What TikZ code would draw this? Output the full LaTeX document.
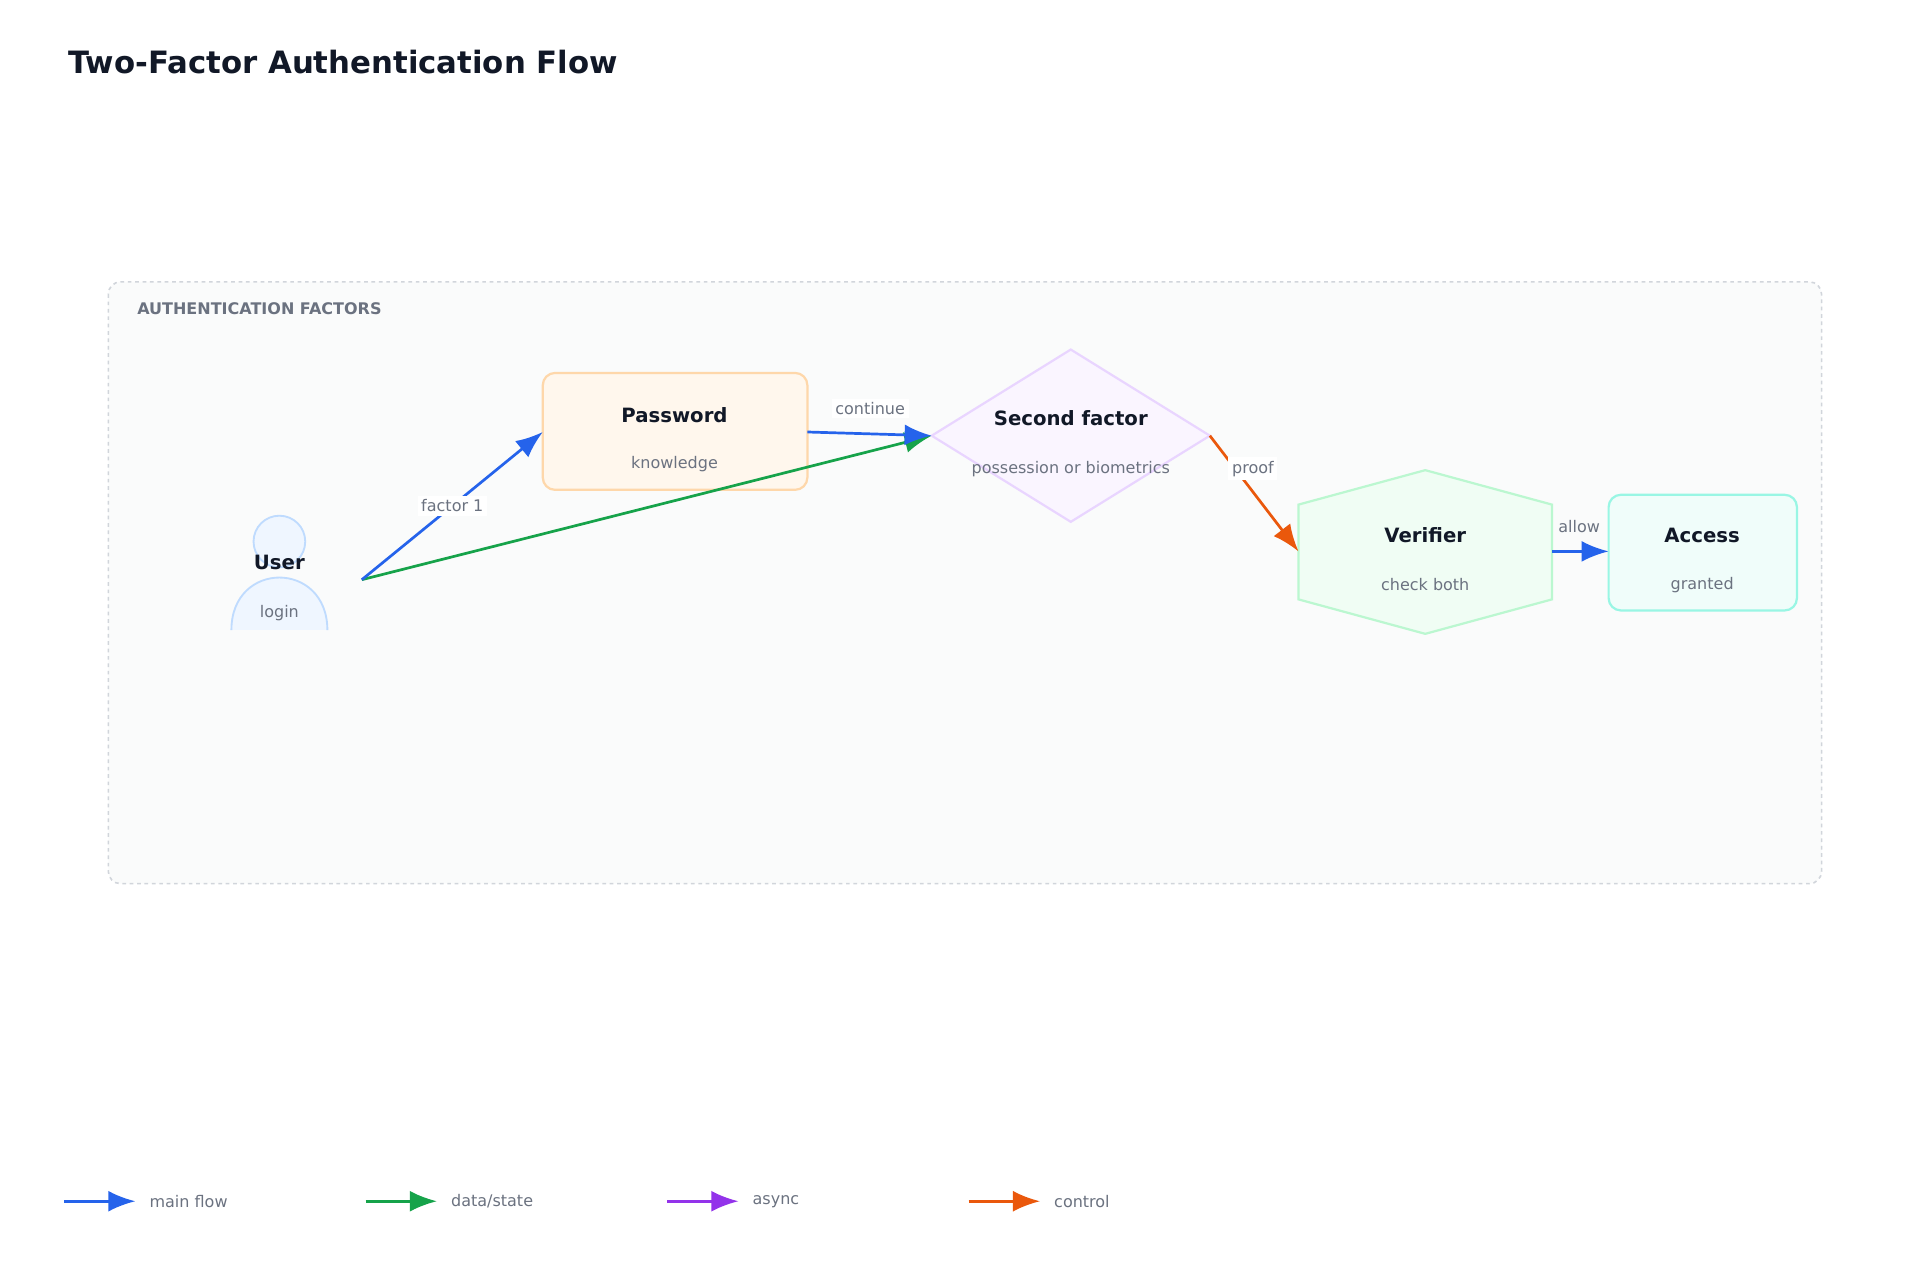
\documentclass[tikz,border=0pt]{standalone}
\usepackage{fontspec}
\setmainfont{DejaVu Sans}
\usetikzlibrary{arrows.meta, positioning, shapes.geometric, calc}
\definecolor{CInk}{HTML}{111827}
\definecolor{CMuted}{HTML}{6B7280}
\definecolor{CFrame}{HTML}{D1D5DB}
\definecolor{CBlue}{HTML}{2563EB}
\definecolor{CGreen}{HTML}{16A34A}
\definecolor{CPurple}{HTML}{9333EA}
\definecolor{COrange}{HTML}{EA580C}
\definecolor{CUserLine}{HTML}{BFDBFE}
\definecolor{CUserFill}{HTML}{EFF6FF}
\definecolor{CPwdLine}{HTML}{FED7AA}
\definecolor{CPwdFill}{HTML}{FFF7ED}
\definecolor{CSecLine}{HTML}{E9D5FF}
\definecolor{CSecFill}{HTML}{FAF5FF}
\definecolor{CVerLine}{HTML}{BBF7D0}
\definecolor{CVerFill}{HTML}{F0FDF4}
\definecolor{CAccLine}{HTML}{99F6E4}
\definecolor{CAccFill}{HTML}{F0FDFA}
\definecolor{CGroup}{HTML}{FAFBFB}

\tikzset{
    title/.style={font=\bfseries\fontsize{16}{19}\selectfont, text=CInk},
    sub/.style={font=\fontsize{13}{16}\selectfont, text=CMuted},
    flow/.style={-{Latex[length=22pt, width=17pt]}, line width=2.2pt},
    elabel/.style={fill=white, inner sep=3pt, font=\fontsize{13}{16}\selectfont, text=CMuted},
}

\begin{document}
\begin{tikzpicture}[x=1pt, y=-1pt]
    \useasboundingbox (0,0) rectangle (1560,1040);
    \fill[white] (0,0) rectangle (1560,1040);

    % Title
    \node[anchor=west, font=\bfseries\fontsize{25}{30}\selectfont, text=CInk] (heading) at (52,50) {Two-Factor Authentication Flow};

    % Group frame
    \draw[CFrame, dashed, line width=1.3pt, rounded corners=10pt, fill=CGroup] (88,229) rectangle (1480,718);
    \node[anchor=west, font=\bfseries\fontsize{13}{16}\selectfont, text=CMuted] (grp) at (108,251) {AUTHENTICATION FACTORS};

    % User
    \draw[CUserLine, fill=CUserFill, line width=1.5pt] (227,440) circle (21);
    \draw[CUserLine, fill=CUserFill, line width=1.5pt]
        (188,512) .. controls (188,455) and (266,455) .. (266,512);
    \node[title] (user) at (227,457) {User};
    \node[sub] (userSub) at (227,498) {login};
    \coordinate (userOut) at (294,471);

    % Password
    \draw[CPwdLine, fill=CPwdFill, line width=1.8pt, rounded corners=10pt] (441,303) rectangle (656,398);
    \node[title] (pwd) at (548,337) {Password};
    \node[sub] at (548,377) {knowledge};
    \coordinate (pwdIn) at (441,351);
    \coordinate (pwdOut) at (656,351);

    % Second factor
    \draw[CSecLine, fill=CSecFill, line width=1.8pt]
        (757,354) -- (870,284) -- (983,354) -- (870,424) -- cycle;
    \node[title] (second) at (870,340) {Second factor};
    \node[sub] at (870,381) {possession or biometrics};
    \coordinate (secIn) at (757,354);
    \coordinate (secOut) at (983,354);

    % Verifier
    \draw[CVerLine, fill=CVerFill, line width=1.8pt]
        (1055,410) -- (1158,382) -- (1261,410) -- (1261,487) -- (1158,515) -- (1055,487) -- cycle;
    \node[title] (verifier) at (1158,435) {Verifier};
    \node[sub] at (1158,475) {check both};
    \coordinate (verIn) at (1055,448);
    \coordinate (verOut) at (1261,448);

    % Access
    \draw[CAccLine, fill=CAccFill, line width=1.8pt, rounded corners=10pt] (1307,402) rectangle (1460,496);
    \node[title] (access) at (1383,435) {Access};
    \node[sub] at (1383,475) {granted};
    \coordinate (accIn) at (1307,448);

    % Connectors
    \draw[flow, CGreen] (userOut) -- (secIn);
    \draw[flow, CBlue] (userOut) -- node[elabel, pos=0.5] {factor 1} (pwdIn);
    \draw[flow, CBlue] (pwdOut) -- (secIn);
    \node[elabel] at (707,332) {continue};
    \draw[flow, COrange] (secOut) -- (verIn);
    \node[elabel] at (1018,381) {proof};
    \draw[flow, CBlue] (verOut) -- (accIn);
    \node[elabel, fill=none] at (1283,428) {allow};

    % Legend
    \foreach \c/\t [count=\i from 0] in {CBlue/{main flow}, CGreen/{data/state}, CPurple/{async}, COrange/{control}}{
        \coordinate (lg\i) at (52+245*\i,976);
        \draw[flow, \c] (lg\i) -- ++(58,0);
        \node[anchor=west, sub] at ($(lg\i)+(66,0)$) {\t};
    }
\end{tikzpicture}
\end{document}
